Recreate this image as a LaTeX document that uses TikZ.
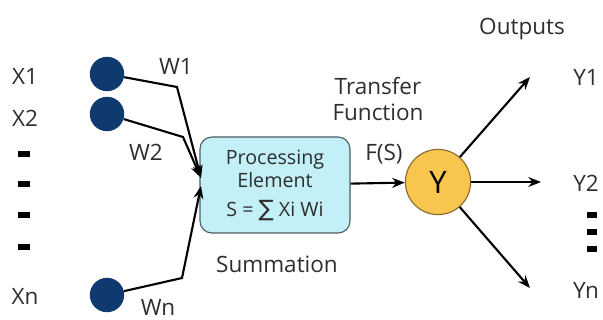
\documentclass[tikz,border=0pt]{standalone}
\usepackage{fontspec}
\setmainfont{Open Sans}
\newfontfamily\symfont{DejaVu Sans}
\usepackage{xcolor}
\usetikzlibrary{arrows.meta}
\definecolor{inblue}{HTML}{0F3A70}
\definecolor{boxfill}{HTML}{C3EFF6}
\definecolor{boxline}{HTML}{4D5C62}
\definecolor{outfill}{HTML}{F8C54E}
\definecolor{outline}{HTML}{8A6A2E}
\definecolor{txt}{HTML}{2E2E2E}

\begin{document}
\begin{tikzpicture}[x=0.025cm,y=-0.025cm,
	lbl/.style={text=txt, font=\fontsize{16}{18}\selectfont},
	innode/.style={circle, fill=inblue, minimum size=0.86cm, inner sep=0pt},
	wire/.style={line width=1.5pt, -{Stealth[length=9pt,width=7pt]}},
	dot/.style={fill=black, minimum width=0.3cm, minimum height=0.16cm, inner sep=0pt}]
		\useasboundingbox (0,0) rectangle (603,320);
		% Input labels and dots
		\node[lbl] (x1) at (25,76) {X1};
		\node[lbl] (x2) at (25,118) {X2};
		\node[lbl] (xn) at (25,296) {Xn};
		\foreach \y [count=\i] in {154,184,215,247}
			\node[dot] (d\i) at (24,\y) {};
		% Input neurons
		\node[innode] (n1) at (107,74) {};
		\node[innode] (n2) at (107,114) {};
		\node[innode] (nn) at (107,295) {};
		% Bends and tips of the weighted lines
		\coordinate (b1) at (177,87);
		\coordinate (b2) at (183,137);
		\coordinate (bn) at (182,278);
		\coordinate (t1) at (201,178);
		\coordinate (tn) at (201,186);
		% Processing element
		\node[draw=boxline, fill=boxfill, rounded corners=0.3cm, line width=0.8pt,
			minimum width=3.75cm, minimum height=2.4cm, align=center, text=txt,
			font=\fontsize{14}{17}\selectfont] (pe) at (275,185)
			{Processing\\Element\\[3pt]S = {\symfont\fontsize{16}{17}\selectfont ∑} Xi Wi};
		% Weighted lines
		\draw[wire] (n1) -- (b1) -- (t1);
		\draw[wire] (n2) -- (b2) -- (t1);
		\draw[wire] (nn) -- (bn) -- (tn);
		\node[lbl] (w1) at (176,66) {W1};
		\node[lbl] (w2) at (146,152) {W2};
		\node[lbl] (wn) at (158,307) {Wn};
		\node[lbl] (sum) at (277,264) {Summation};
		% Transfer function and output
		\node[lbl, align=center] (tf) at (378,99) {Transfer\\Function};
		\node[lbl] (fs) at (384,154) {F(S)};
		\node[circle, draw=outline, fill=outfill, line width=0.8pt, minimum size=1.63cm,
			inner sep=0pt, font=\fontsize{22}{24}\selectfont] (y) at (438,182) {Y};
		\draw[wire] (pe) -- (y);
		% Outputs
		\node[lbl] (out) at (522,29) {Outputs};
		\coordinate (o1) at (530,77);
		\coordinate (o2) at (541,182);
		\coordinate (on) at (530,288);
		\draw[wire] (y) -- (o1);
		\draw[wire] (y) -- (o2);
		\draw[wire] (y) -- (on);
		\node[lbl] (y1) at (586,77) {Y1};
		\node[lbl] (y2) at (586,183) {Y2};
		\node[lbl] (yn) at (586,290) {Yn};
		\foreach \y [count=\i] in {215,232,249}
			\node[dot, minimum width=0.27cm] (e\i) at (592,\y) {};
\end{tikzpicture}
\end{document}
